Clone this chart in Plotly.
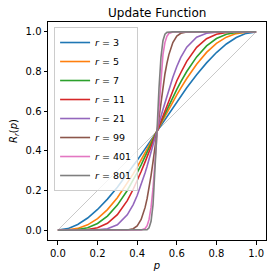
import plotly.graph_objects as go

# p grid (x values)
p = [0, 0.05, 0.1, 0.15, 0.2, 0.25, 0.3, 0.35, 0.38, 0.4, 0.42, 0.44, 0.45, 0.46, 0.47, 0.48, 0.49, 0.5,
     0.51, 0.52, 0.53, 0.54, 0.55, 0.56, 0.58, 0.6, 0.62, 0.65, 0.7, 0.75, 0.8, 0.85, 0.9, 0.95, 1.0]

r_labels = ["3", "5", "7", "11", "21", "99", "401", "801"]

R3 = [0, 0.0073, 0.028, 0.0608, 0.104, 0.1563, 0.216, 0.2818, 0.3235, 0.352, 0.381, 0.4104, 0.4253, 0.4401, 0.4551, 0.47, 0.485, 0.5,
      0.515, 0.53, 0.5449, 0.5599, 0.5747, 0.5896, 0.619, 0.648, 0.6765, 0.7182, 0.784, 0.8437, 0.896, 0.9392, 0.972, 0.9927, 1]
R5 = [0, 0.0012, 0.0086, 0.0266, 0.0579, 0.1035, 0.1631, 0.2352, 0.2835, 0.3174, 0.3525, 0.3886, 0.4069, 0.4253, 0.4439, 0.4625, 0.4813, 0.5,
      0.5187, 0.5375, 0.5561, 0.5747, 0.5931, 0.6114, 0.6475, 0.6826, 0.7165, 0.7648, 0.8369, 0.8965, 0.9421, 0.9734, 0.9914, 0.9988, 1]
R7 = [0, 0.0002, 0.0027, 0.0121, 0.0333, 0.0706, 0.126, 0.1998, 0.2521, 0.2898, 0.3294, 0.3706, 0.3917, 0.4131, 0.4346, 0.4563, 0.4781, 0.5,
      0.5219, 0.5437, 0.5654, 0.5869, 0.6083, 0.6294, 0.6706, 0.7102, 0.7479, 0.8002, 0.874, 0.9294, 0.9667, 0.9879, 0.9973, 0.9998, 1]
R11 = [0, 0, 0.0003, 0.0027, 0.0117, 0.0343, 0.0782, 0.1487, 0.2061, 0.2465, 0.2954, 0.3442, 0.3694, 0.395, 0.421, 0.4472, 0.4736, 0.5,
       0.5264, 0.5528, 0.579, 0.605, 0.6306, 0.6558, 0.7046, 0.7535, 0.7939, 0.8513, 0.9218, 0.9657, 0.9883, 0.9973, 0.9997, 1, 1]
R21 = [0, 0, 0, 0.0001, 0.001, 0.0064, 0.0264, 0.077, 0.1286, 0.1744, 0.2288, 0.2898, 0.3225, 0.3565, 0.3915, 0.4272, 0.4635, 0.5,
       0.5365, 0.5728, 0.6085, 0.6435, 0.6775, 0.7102, 0.7712, 0.8256, 0.8714, 0.923, 0.9736, 0.9936, 0.999, 0.9999, 1, 1, 1]
R99 = [0, 0, 0, 0, 0, 0, 0, 0.0009, 0.007, 0.0211, 0.0534, 0.1146, 0.1587, 0.2123, 0.2749, 0.3452, 0.4211, 0.5,
       0.5789, 0.6548, 0.7251, 0.7877, 0.8413, 0.8854, 0.9466, 0.9789, 0.993, 0.9991, 1, 1, 1, 1, 1, 1, 1]
R401 = [0, 0, 0, 0, 0, 0, 0, 0, 0, 0, 0.0006, 0.0078, 0.0221, 0.054, 0.1144, 0.2114, 0.3444, 0.5,
        0.6556, 0.7886, 0.8856, 0.946, 0.9779, 0.9922, 0.9994, 1, 1, 1, 1, 1, 1, 1, 1, 1, 1]
R801 = [0, 0, 0, 0, 0, 0, 0, 0, 0, 0, 0, 0.0003, 0.0022, 0.0116, 0.0445, 0.1286, 0.2856, 0.5,
        0.7144, 0.8714, 0.9555, 0.9884, 0.9978, 0.9997, 1, 1, 1, 1, 1, 1, 1, 1, 1, 1, 1]

diag_x = [0, 1]
diag_y = [0, 1]

series = [R3, R5, R7, R11, R21, R99, R401, R801]
colors = ["#1f77b4", "#ff7f0e", "#2ca02c", "#d62728", "#9467bd", "#8c564b", "#e377c2", "#7f7f7f"]

font_family = "DejaVu Sans"

fig = go.Figure()
fig.add_trace(go.Scatter(x=diag_x, y=diag_y, mode="lines",
                         line=dict(color="#b0b0b0", width=0.7), showlegend=False, hoverinfo="skip"))
for lab, ys, c in zip(r_labels, series, colors):
    fig.add_trace(go.Scatter(x=p, y=ys, mode="lines", name=f"<i>r</i> = {lab}",
                             line=dict(color=c, width=1.6)))

axis_common = dict(showline=True, mirror=True, linecolor="black", linewidth=1,
                   ticks="outside", ticklen=3.5, tickcolor="black", tickwidth=1,
                   showgrid=False, zeroline=False, automargin=False,
                   tickfont=dict(family=font_family, size=10, color="black"),
                   tickvals=[0, 0.2, 0.4, 0.6, 0.8, 1.0], tickformat=".1f")

fig.update_layout(
    width=272, height=280,
    margin=dict(l=48, r=6, t=22, b=40, autoexpand=False),
    paper_bgcolor="white", plot_bgcolor="white",
    font=dict(family=font_family, size=10, color="black"),
    title=dict(text="Update Function", x=0.578, xanchor="center", y=0.955, yanchor="middle",
               font=dict(family=font_family, size=12, color="black")),
    xaxis=dict(range=[-0.05, 1.05], title=dict(text="<i>p</i>", standoff=4,
               font=dict(family=font_family, size=10)), **axis_common),
    yaxis=dict(range=[-0.05, 1.05], title=dict(text="<i>R<sub>r</sub></i>(<i>p</i>)", standoff=6,
               font=dict(family=font_family, size=10)), **axis_common),
    legend=dict(x=0.028, y=0.977, xanchor="left", yanchor="top",
                bgcolor="rgba(255,255,255,0.8)", bordercolor="#cccccc", borderwidth=1,
                font=dict(family=font_family, size=9.5), itemwidth=30, tracegroupgap=0),
)

fig.write_html("out.html", config={"displayModeBar": False},
               post_script="document.body.style.margin='0';document.body.style.overflow='hidden';")
